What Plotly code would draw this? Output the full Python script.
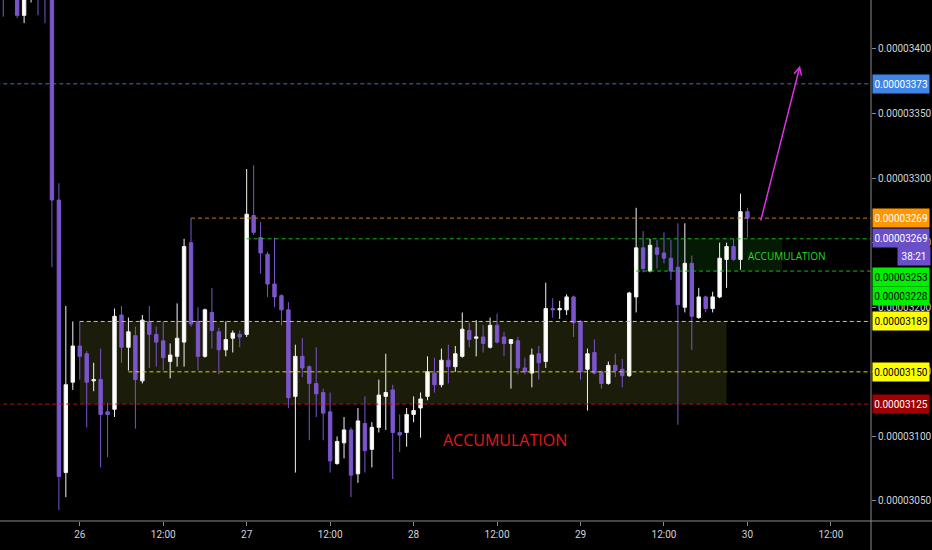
import pandas as pd
import plotly.graph_objects as go

# hourly candles, prices in units of 1e-8
open_ = [3469, 3446, 3453, 3426, 3442, 3461, 3450, 3440, 3283, 3072,
         3142, 3170, 3164, 3143, 3144, 3119, 3121, 3194, 3169, 3178,
         3143, 3189, 3179, 3174, 3158, 3162, 3173, 3250, 3189, 3162,
         3196, 3181, 3167, 3176, 3179, 3179, 3271, 3254, 3241, 3218,
         3209, 3198, 3131, 3162, 3154, 3141, 3134, 3119, 3079, 3095,
         3105, 3071, 3110, 3090, 3107, 3131, 3136, 3103, 3103, 3117,
         3122, 3131, 3149, 3140, 3159, 3154, 3162, 3182, 3176, 3177,
         3169, 3186, 3177, 3172, 3174, 3153, 3149, 3164, 3158, 3199,
         3198, 3198, 3208, 3189, 3152, 3165, 3150, 3141, 3155, 3152,
         3147, 3208, 3246, 3228, 3246, 3242, 3238, 3231, 3200, 3234,
         3192, 3208, 3199, 3208, 3237, 3247, 3237, 3274]
high = [3484, 3473, 3461, 3461, 3469, 3473, 3457, 3446, 3296, 3201,
        3189, 3189, 3166, 3157, 3168, 3126, 3199, 3201, 3192, 3185,
        3194, 3201, 3185, 3189, 3172, 3203, 3253, 3269, 3200, 3199,
        3215, 3184, 3189, 3182, 3182, 3307, 3310, 3266, 3243, 3254,
        3210, 3204, 3171, 3176, 3155, 3169, 3137, 3134, 3100, 3115,
        3107, 3122, 3131, 3111, 3144, 3164, 3140, 3117, 3122, 3131,
        3134, 3162, 3161, 3168, 3171, 3170, 3196, 3188, 3190, 3186,
        3192, 3195, 3181, 3175, 3177, 3161, 3168, 3170, 3219, 3207,
        3205, 3210, 3209, 3190, 3168, 3175, 3151, 3158, 3164, 3160,
        3212, 3277, 3259, 3253, 3252, 3258, 3252, 3265, 3265, 3240,
        3215, 3209, 3212, 3250, 3250, 3253, 3288, 3277]
low = [3425, 3442, 3424, 3420, 3436, 3426, 3420, 3231, 3043, 3053,
       3136, 3144, 3107, 3135, 3076, 3084, 3115, 3157, 3151, 3106,
       3141, 3153, 3154, 3151, 3145, 3154, 3154, 3185, 3151, 3161,
       3168, 3148, 3162, 3165, 3169, 3177, 3256, 3226, 3208, 3200,
       3186, 3122, 3072, 3146, 3097, 3115, 3097, 3072, 3078, 3083,
       3053, 3064, 3072, 3076, 3103, 3105, 3067, 3088, 3092, 3111,
       3099, 3128, 3134, 3138, 3141, 3150, 3161, 3169, 3162, 3165,
       3168, 3172, 3162, 3137, 3148, 3148, 3138, 3144, 3153, 3192,
       3191, 3194, 3177, 3144, 3120, 3148, 3137, 3140, 3146, 3138,
       3146, 3196, 3227, 3227, 3230, 3234, 3221, 3109, 3196, 3167,
       3191, 3196, 3196, 3207, 3215, 3236, 3229, 3254]
close = [3446, 3461, 3426, 3450, 3457, 3442, 3440, 3283, 3069, 3140,
         3170, 3162, 3142, 3144, 3117, 3117, 3193, 3169, 3181, 3144,
         3190, 3179, 3173, 3161, 3163, 3176, 3247, 3187, 3162, 3198,
         3182, 3167, 3175, 3180, 3177, 3272, 3258, 3242, 3218, 3208,
         3198, 3130, 3162, 3153, 3141, 3133, 3118, 3081, 3096, 3105,
         3070, 3112, 3089, 3107, 3132, 3134, 3103, 3101, 3117, 3120,
         3129, 3150, 3140, 3159, 3154, 3164, 3183, 3175, 3177, 3172,
         3186, 3173, 3172, 3175, 3153, 3150, 3163, 3157, 3199, 3198,
         3199, 3208, 3188, 3150, 3164, 3149, 3141, 3155, 3151, 3147,
         3211, 3246, 3230, 3248, 3241, 3238, 3228, 3202, 3234, 3193,
         3208, 3199, 3208, 3238, 3247, 3237, 3274, 3269]

x_ticks = ["2019-09-26 00:00", "2019-09-26 12:00", "2019-09-27 00:00", "2019-09-27 12:00",
           "2019-09-28 00:00", "2019-09-28 12:00", "2019-09-29 00:00", "2019-09-29 12:00",
           "2019-09-30 00:00", "2019-09-30 12:00"]
x_labels = ["26", "12:00", "27", "12:00", "28", "12:00", "29", "12:00", "30", "12:00"]
y_ticks = [3050, 3100, 3150, 3200, 3250, 3300, 3350, 3400]

# price lines: (price, start time, colour)
levels = [
    (3373, "2019-09-25 12:00", "#3f72c8"),
    (3269, "2019-09-26 16:00", "#c07a36"),
    (3253, "2019-09-27 00:00", "#14b814"),
    (3228, "2019-09-29 08:00", "#14b814"),
    (3189, "2019-09-26 00:00", "#d8d800"),
    (3150, "2019-09-26 07:00", "#d8d800"),
    (3125, "2019-09-25 12:00", "#b01414"),
]
# right-hand price tags: (price, text, bg, fg, yshift)
tags = [
    (3373, "0.00003373", "#3f86e6", "white", 0),
    (3269, "0.00003269", "#ff9800", "white", 0),
    (3269, "0.00003269", "#6b4fc8", "white", -20),
    (3253, "0.00003253", "#00ee00", "black", -38),
    (3228, "0.00003228", "#00ee00", "black", -25),
    (3189, "0.00003189", "#ffff00", "black", 0),
    (3150, "0.00003150", "#ffff00", "black", 0),
    (3125, "0.00003125", "#a00000", "white", 0),
]

k = 1e-8
times = pd.date_range("2019-09-25 13:00", periods=len(open_), freq="h")
x_end = "2019-09-30 17:46"

fig = go.Figure()
fig.add_trace(go.Candlestick(
    x=times,
    open=[v * k for v in open_], high=[v * k for v in high],
    low=[v * k for v in low], close=[v * k for v in close],
    increasing=dict(line=dict(color="#f4f4f4", width=1), fillcolor="#ffffff"),
    decreasing=dict(line=dict(color="#7b55cc", width=1), fillcolor="#7b55cc"),
    whiskerwidth=0,
    hoverinfo="skip",
))

shapes = []
# zones
shapes.append(dict(type="rect", xref="x", yref="y", x0="2019-09-26 00:00", x1="2019-09-29 21:00",
                   y0=3125 * k, y1=3189 * k, fillcolor="rgba(255,255,90,0.11)", line_width=0, layer="below"))
shapes.append(dict(type="rect", xref="x", yref="y", x0="2019-09-29 08:15", x1="2019-09-30 05:00",
                   y0=3228 * k, y1=3253 * k, fillcolor="rgba(30,200,30,0.13)", line_width=0, layer="below"))
for price, start, col in levels:
    shapes.append(dict(type="line", xref="x", yref="y", x0=start, x1=x_end,
                       y0=price * k, y1=price * k, line=dict(color=col, width=1, dash="4px,3px")))
# axis borders
shapes.append(dict(type="line", xref="paper", yref="paper", x0=0, x1=1.07, y0=0, y1=0,
                   line=dict(color="#8a8a8a", width=1)))
shapes.append(dict(type="line", xref="paper", yref="paper", x0=1, x1=1, y0=-0.06, y1=1,
                   line=dict(color="#8a8a8a", width=1)))

annotations = []
for price, txt, bg, fg, dy in tags:
    annotations.append(dict(xref="paper", yref="y", x=1, xshift=1, y=price * k, yshift=dy,
                            xanchor="left", yanchor="middle", text=txt, showarrow=False,
                            bgcolor=bg, width=56, height=18, borderpad=0,
                            font=dict(color=fg, size=10, family="Roboto")))
annotations.append(dict(xref="paper", yref="y", x=900 / 874, y=3269 * k, yshift=-38,
                        xanchor="left", yanchor="middle", text="38:21", showarrow=False,
                        bgcolor="#6b4fc8", width=32, height=18, borderpad=0,
                        font=dict(color="white", size=10, family="Roboto")))
annotations.append(dict(x="2019-09-28 04:00", y=3097 * k, xanchor="left", yanchor="middle",
                        text="ACCUMULATION", showarrow=False,
                        font=dict(color="#e01818", size=16, family="Open Sans")))
annotations.append(dict(x="2019-09-29 23:50", y=3240 * k, xanchor="left", yanchor="middle",
                        text="ACCUMULATION", showarrow=False,
                        font=dict(color="#22dd22", size=10, family="Open Sans")))
annotations.append(dict(x="2019-09-30 07:34", y=3387 * k, ax="2019-09-30 01:52", ay=3266 * k,
                        axref="x", ayref="y", text="", showarrow=True,
                        arrowhead=5, arrowsize=1, arrowwidth=1.5, arrowcolor="#e030e8"))

fig.update_layout(
    width=932, height=550,
    margin=dict(l=0, r=58, t=0, b=29),
    paper_bgcolor="#000000", plot_bgcolor="#000000",
    showlegend=False,
    shapes=shapes,
    annotations=annotations,
    font=dict(family="Roboto", color="#d0d3da", size=10),
    xaxis=dict(range=["2019-09-25 12:32", x_end], rangeslider=dict(visible=False),
               showgrid=False, zeroline=False, showline=False,
               tickvals=x_ticks, ticktext=x_labels, ticks="outside", ticklen=4,
               tickcolor="#8a8a8a", tickfont=dict(size=10, color="#d0d3da")),
    yaxis=dict(range=[3034.5 * k, 3437.9 * k], side="right",
               showgrid=False, zeroline=False, showline=False,
               tickvals=[v * k for v in y_ticks], tickformat=".8f",
               ticks="outside", ticklen=4, tickcolor="#8a8a8a",
               tickfont=dict(size=10, color="#d0d3da")),
)

fig.write_html("out.html", config={"displayModeBar": False},
               post_script="document.body.style.margin='0';document.body.style.background='#000';")
